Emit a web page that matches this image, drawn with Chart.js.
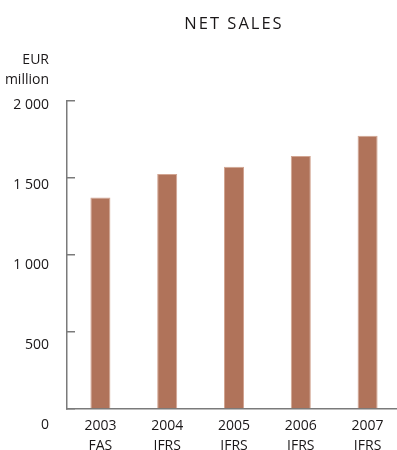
<!DOCTYPE html>
<html>
<head>
<meta charset="utf-8">
<script src="https://cdn.jsdelivr.net/npm/chart.js@4.4.1/dist/chart.umd.min.js"></script>
<style>
  html, body { margin: 0; padding: 0; background: #fff; overflow: hidden; }
  canvas { display: block; }
</style>
</head>
<body>
<canvas id="c" width="404" height="450"></canvas>
<script>
// Net sales, EUR million
const years = ['2003', '2004', '2005', '2006', '2007'];
const standards = ['FAS', 'IFRS', 'IFRS', 'IFRS', 'IFRS'];
const netSales = [1372, 1524, 1571, 1641, 1773];
const yTicks = [0, 500, 1000, 1500, 2000];
const unitLabel = ['EUR', 'million'];
const titleText = 'NET SALES';

const INK = '#1a1718';
const AXIS = '#7a7a7a';
const BAR = '#b0735a';
const BAR_EDGE = '#d2a592';
const UNIT_AT = 2220; // where the unit caption sits on the label scale

Chart.defaults.font.family = "'Open Sans', 'Noto Sans', sans-serif";

const fmt = v => String(v).replace(/\B(?=(\d{3})+(?!\d))/g, ' ');

// Adds letter spacing to the chart title only
const titleTracking = {
  id: 'titleTracking',
  beforeDraw(chart, args, opts) {
    const block = chart.titleBlock;
    if (!block || block._tracked) return;
    const draw = block.draw.bind(block);
    block.draw = function (area) {
      const ctx = chart.ctx;
      ctx.save();
      ctx.letterSpacing = opts.spacing;
      draw(area);
      ctx.restore();
    };
    block._tracked = true;
  }
};

new Chart(document.getElementById('c'), {
  type: 'bar',
  data: {
    labels: years.map((y, i) => [y, standards[i]]),
    datasets: [{
      data: netSales,
      yAxisID: 'y',
      backgroundColor: BAR,
      borderColor: BAR_EDGE,
      borderWidth: 1,
      barPercentage: 0.3,
      categoryPercentage: 1
    }]
  },
  options: {
    responsive: false,
    animation: false,
    layout: { padding: { left: 0, right: 3, top: 0, bottom: 0 } },
    plugins: {
      legend: { display: false },
      tooltip: { enabled: false },
      title: {
        display: true,
        text: titleText,
        fullSize: false,
        color: INK,
        font: { size: 16.5, weight: 'normal' },
        padding: { top: 14.6, bottom: 66.3 }
      },
      titleTracking: { spacing: '2px' }
    },
    scales: {
      x: {
        grid: { display: false, drawTicks: false },
        border: { display: true, color: AXIS, width: 1.5 },
        ticks: {
          color: INK,
          font: { size: 14, lineHeight: '20px' },
          padding: 7,
          maxRotation: 0,
          autoSkip: false
        },
        afterFit: s => { s.height = 41; }
      },
      // value scale: axis line and inward tick marks
      y: {
        position: 'left',
        weight: 0,
        min: 0,
        max: 2000,
        bounds: 'data',
        afterBuildTicks: s => { s.ticks = yTicks.map(v => ({ value: v })); },
        grid: { drawOnChartArea: false, drawTicks: true, tickLength: -8, color: AXIS, lineWidth: 1.5 },
        border: { display: true, color: AXIS, width: 1.5 },
        ticks: { display: false },
        afterFit: s => { s.width = 0; }
      },
      // tick labels, spaced slightly wider than the tick marks
      yLabels: {
        type: 'linear',
        position: 'left',
        weight: 1,
        min: 98.1,
        max: 2026.9,
        bounds: 'data',
        afterBuildTicks: s => { s.ticks = [...yTicks, UNIT_AT].map(v => ({ value: v })); },
        grid: { display: false },
        border: { display: false },
        ticks: {
          color: INK,
          font: { size: 14, lineHeight: '20px' },
          padding: 10,
          autoSkip: false,
          callback: v => (v === UNIT_AT ? unitLabel : fmt(v))
        },
        afterFit: s => { s.width = 67; }
      }
    }
  },
  plugins: [titleTracking]
});
</script>
</body>
</html>
